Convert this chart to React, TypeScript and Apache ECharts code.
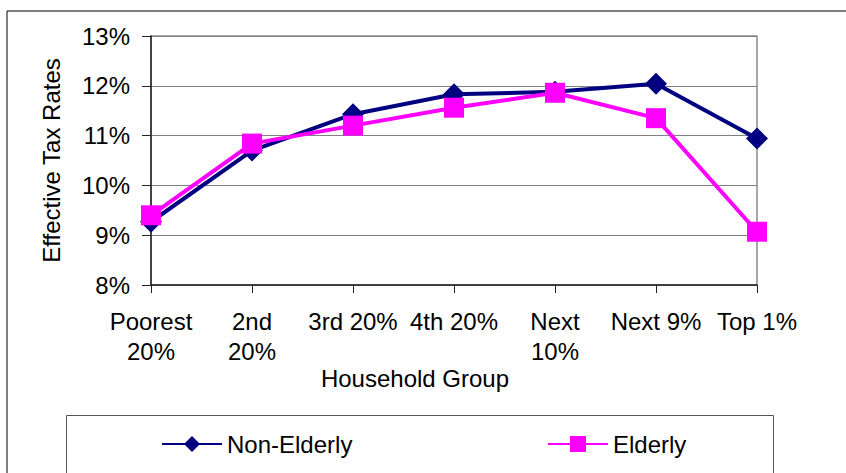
import React, { useEffect, useRef } from "react";
import * as echarts from "echarts";

const categories = ["Poorest\n20%", "2nd\n20%", "3rd 20%", "4th 20%", "Next\n10%", "Next 9%", "Top 1%"];
const nonElderly = [9.27, 10.7, 11.43, 11.83, 11.88, 12.04, 10.94];
const elderly = [9.4, 10.84, 11.2, 11.56, 11.86, 11.35, 9.07];
const yTicks = { min: 8, max: 13, interval: 1 };

const FONT = "'Liberation Sans', Arial, sans-serif";
const FS = 24;

export default function App() {
  const ref = useRef<HTMLDivElement>(null);
  useEffect(() => {
    if (!ref.current) return;
    const chart = echarts.init(ref.current, undefined, { renderer: "svg" });
    chart.setOption({
      animation: false,
      backgroundColor: "#ffffff",
      textStyle: { fontFamily: FONT, color: "#000" },
      grid: {
        left: 151,
        right: 89,
        top: 36,
        bottom: 188,
        show: true,
        borderColor: "#8c8c8c",
        borderWidth: 1.5,
      },
      legend: [
        {
          data: ["Non-Elderly"],
          left: 156,
          top: 427,
          itemWidth: 60,
          itemHeight: 20,
          itemGap: 0,
          textStyle: { fontSize: FS, color: "#000", fontFamily: FONT },
        },
        {
          data: ["Elderly"],
          left: 542,
          top: 427,
          itemWidth: 60,
          itemHeight: 20,
          itemGap: 0,
          textStyle: { fontSize: FS, color: "#000", fontFamily: FONT },
        },
      ],
      xAxis: {
        type: "category",
        data: categories,
        boundaryGap: false,
        axisLine: { lineStyle: { color: "#222", width: 1.5 } },
        axisTick: { show: true, length: 8, inside: false, lineStyle: { color: "#222" }, interval: 0 },
        axisLabel: {
          interval: 0,
          margin: 21,
          fontSize: FS,
          lineHeight: 30,
          color: "#000",
          fontFamily: FONT,
        },
        splitLine: { show: false },
      },
      yAxis: {
        type: "value",
        min: yTicks.min,
        max: yTicks.max,
        interval: yTicks.interval,
        name: "Effective Tax Rates",
        nameLocation: "middle",
        nameRotate: 90,
        nameGap: 88,
        nameTextStyle: { fontSize: FS, color: "#000", fontFamily: FONT },
        axisLine: { show: true, lineStyle: { color: "#222", width: 1.5 } },
        axisTick: { show: true, length: 9, inside: false, lineStyle: { color: "#222" } },
        axisLabel: {
          formatter: "{value}%",
          margin: 21,
          fontSize: FS,
          color: "#000",
          fontFamily: FONT,
        },
        splitLine: { show: true, lineStyle: { color: "#808080", width: 1 } },
      },
      series: [
        {
          name: "Non-Elderly",
          type: "line",
          data: nonElderly,
          symbol: "diamond",
          symbolSize: 22,
          showAllSymbol: true,
          lineStyle: { color: "#000080", width: 4 },
          itemStyle: { color: "#000080" },
        },
        {
          name: "Elderly",
          type: "line",
          data: elderly,
          symbol: "rect",
          symbolSize: 20,
          showAllSymbol: true,
          lineStyle: { color: "#ff00ff", width: 4 },
          itemStyle: { color: "#ff00ff" },
        },
      ],
      graphic: [
        {
          type: "rect",
          shape: { x: 7, y: 11, width: 900, height: 500 },
          style: { fill: "none", stroke: "#000", lineWidth: 1 },
          silent: true,
          z: -10,
        },
        {
          type: "rect",
          shape: { x: 66.5, y: 415.5, width: 707, height: 80 },
          style: { fill: "none", stroke: "#555", lineWidth: 1 },
          silent: true,
          z: -10,
        },
        {
          type: "text",
          x: 415,
          y: 378,
          style: {
            text: "Household Group",
            font: "24px 'Liberation Sans', Arial, sans-serif",
            fill: "#000",
            align: "center",
            verticalAlign: "middle",
          },
        },
      ],
    });
    return () => chart.dispose();
  }, []);
  return (
    <div
      ref={ref}
      style={{ position: "fixed", left: 0, top: 0, width: 846, height: 473 }}
    />
  );
}
